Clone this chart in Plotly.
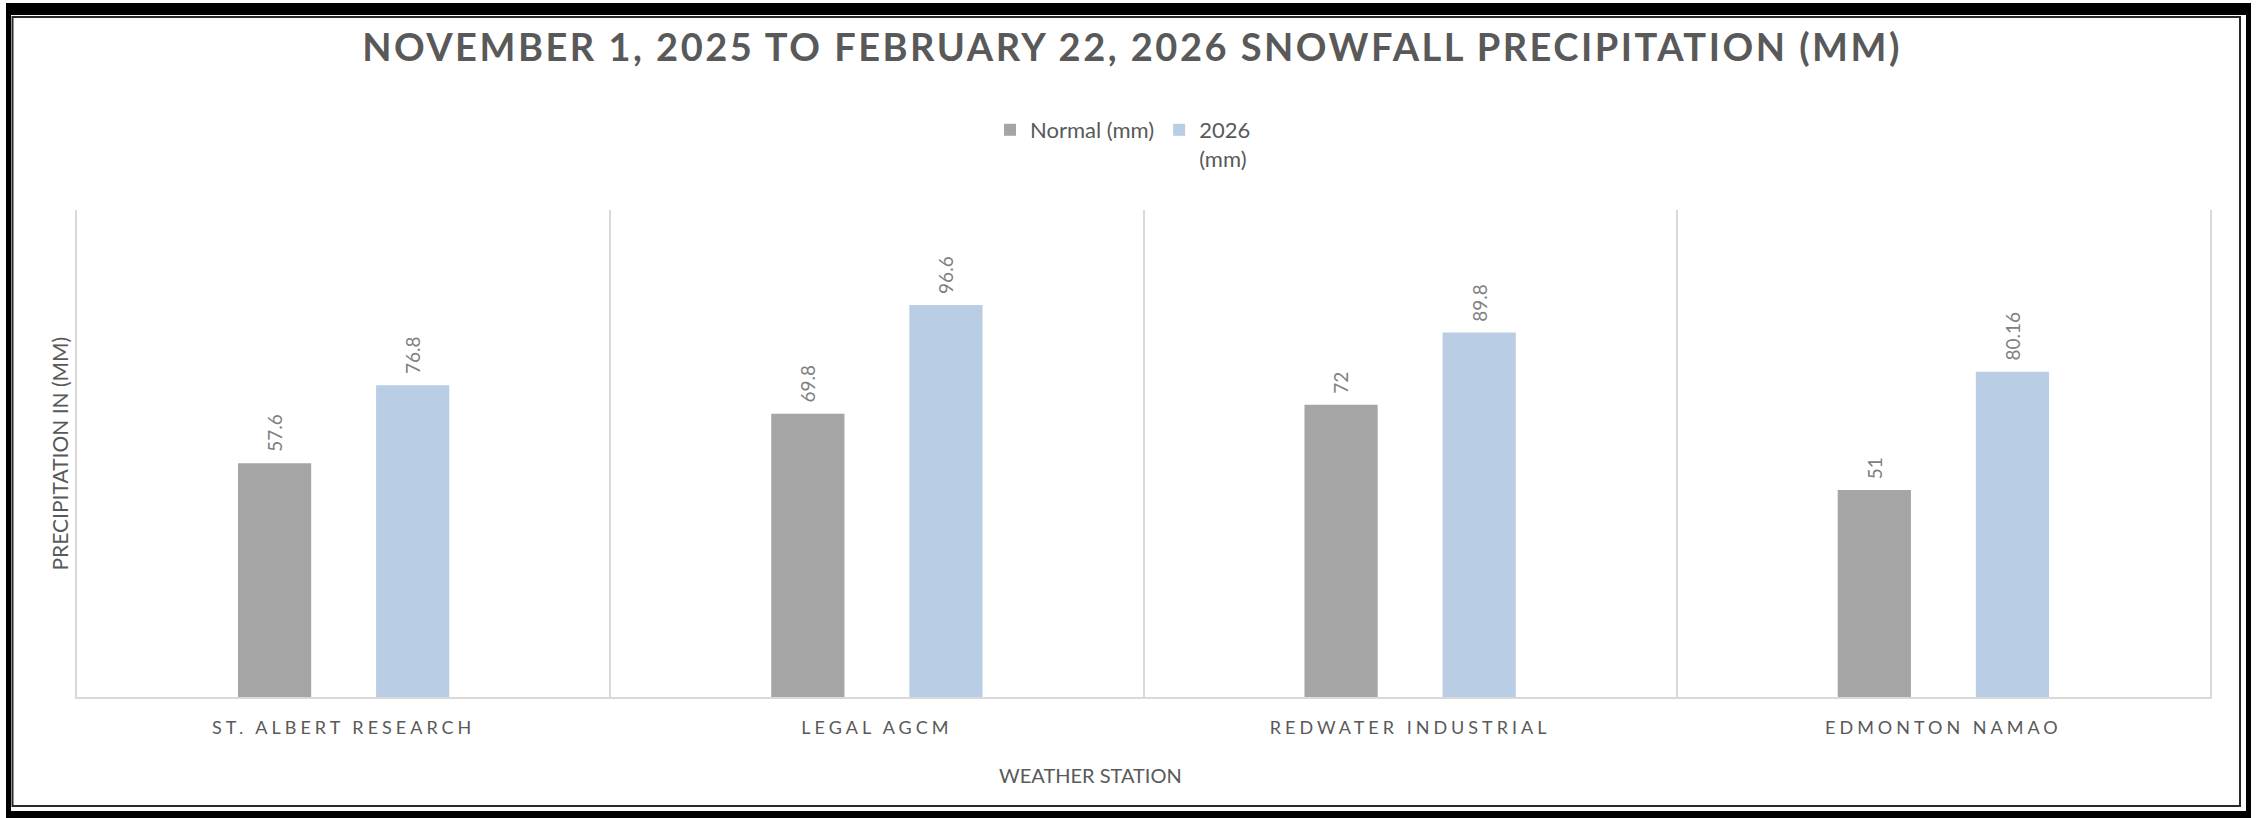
import plotly.graph_objects as go

# ---- data ----
stations = ["ST. ALBERT RESEARCH", "LEGAL AGCM", "REDWATER INDUSTRIAL", "EDMONTON NAMAO"]
normal_mm = [57.6, 69.8, 72, 51]
y2026_mm = [76.8, 96.6, 89.8, 80.16]
series_names = ["Normal (mm)", "2026<br>(mm)"]
series_colors = ["#A5A5A5", "#B9CDE5"]
title_text = "NOVEMBER 1, 2025 TO FEBRUARY 22, 2026 SNOWFALL PRECIPITATION (MM)"
ytitle_text = "PRECIPITATION IN (MM)"
xtitle_text = "WEATHER STATION"

# ---- layout geometry (pixels) ----
W, H = 2264, 818
ML, MR, MT, MB = 77, 54, 210, 121
PW, PH = W - ML - MR, H - MT - MB
BARGAP, BARGROUPGAP = 0.482, 0.47
FONT = "Lato"
GREY_TXT = "#595959"

def px_x(px):
    return (px - ML) / PW

def px_y(py):
    return (H - MB - py) / PH

fig = go.Figure()
all_series = [normal_mm, y2026_mm]
for name, vals, col in zip(series_names, all_series, series_colors):
    fig.add_trace(go.Bar(x=stations, y=vals, name=name, marker_color=col,
                         marker_line_width=0, hoverinfo="x+y"))

# value labels through data coordinates, shifted to each bar of the group
cat_w = PW / len(stations)
slot = cat_w * (1 - BARGAP) / len(all_series)
annotations = []
for i, vals in enumerate(all_series):
    shift = (i - (len(all_series) - 1) / 2) * slot
    for st, v in zip(stations, vals):
        annotations.append(dict(x=st, y=v, xref="x", yref="y", text=f"{v:g}",
                                textangle=-90, showarrow=False, yanchor="bottom",
                                xanchor="center", xshift=shift, yshift=9,
                                font=dict(family=FONT, size=19, color="#808080")))

annotations.append(dict(x=px_x(59), y=0.5, xref="paper", yref="paper", text=ytitle_text,
                        textangle=-90, showarrow=False, xanchor="center", yanchor="middle",
                        font=dict(family=FONT, size=21, color=GREY_TXT)))
annotations.append(dict(x=px_x(1090), y=px_y(775), xref="paper", yref="paper", text=xtitle_text,
                        showarrow=False, xanchor="center", yanchor="middle",
                        font=dict(family=FONT, size=20, color=GREY_TXT)))

shapes = []
# outer thick black frame
for (x0, y0, x1, y1) in [(6, 3, 2251, 15), (6, 3, 11, 818), (2246, 3, 2251, 818), (6, 811, 2251, 818)]:
    shapes.append(dict(type="rect", xref="paper", yref="paper", x0=px_x(x0), x1=px_x(x1),
                       y0=px_y(y0), y1=px_y(y1), fillcolor="black", line_width=0, layer="above"))
# inner thin frame
shapes.append(dict(type="rect", xref="paper", yref="paper", x0=px_x(12.5), x1=px_x(2240),
                   y0=px_y(17), y1=px_y(806), line=dict(color="#2a2a2a", width=2),
                   fillcolor="rgba(0,0,0,0)", layer="above"))

fig.update_layout(
    width=W, height=H,
    margin=dict(l=ML, r=MR, t=MT, b=MB, pad=0),
    paper_bgcolor="white", plot_bgcolor="white",
    barmode="group", bargap=BARGAP, bargroupgap=BARGROUPGAP,
    title=dict(text=title_text, x=0.5, xanchor="center", xref="container",
               y=1 - 48 / H, yanchor="middle", yref="container",
               font=dict(family=FONT, size=38, color=GREY_TXT, weight="bold")),
    legend=dict(orientation="h", xref="container", yref="container",
                x=990 / W, xanchor="left", y=1 - 109 / H, yanchor="top",
                valign="top", font=dict(family=FONT, size=22, color=GREY_TXT),
                bgcolor="rgba(0,0,0,0)", traceorder="normal"),
    xaxis=dict(type="category", tickson="boundaries", showgrid=True, gridcolor="#D9D9D9",
               gridwidth=1.5, showline=True, linecolor="#D9D9D9", linewidth=2,
               ticks="", ticklabelstandoff=13,
               tickfont=dict(family=FONT, size=18, color=GREY_TXT)),
    yaxis=dict(range=[0, 120], showticklabels=False, showgrid=False, zeroline=False,
               showline=True, mirror=True, linecolor="#D9D9D9", linewidth=1.5, ticks=""),
    annotations=annotations, shapes=shapes,
    showlegend=True,
)

post = """
document.body.style.margin='0';
document.body.style.overflow='hidden';
var st=document.createElement('style');
st.innerHTML='.xtick text{letter-spacing:4px;} .gtitle{letter-spacing:2.5px;}';
document.head.appendChild(st);
"""
fig.write_html("out.html", post_script=post, config={"displayModeBar": False})
